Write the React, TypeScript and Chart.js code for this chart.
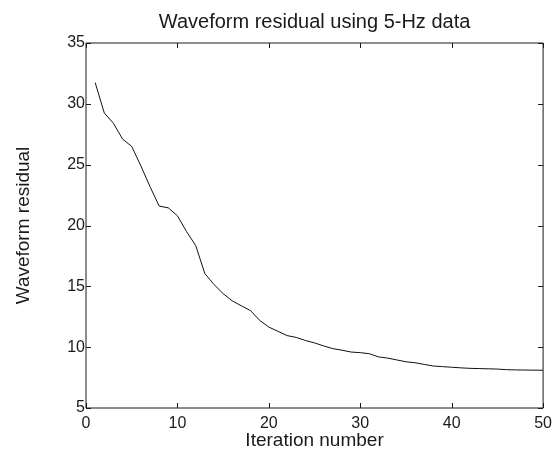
import React, { useEffect, useRef } from "react";
import { Chart, registerables } from "chart.js";

Chart.register(...registerables);

const iterations: number[] = Array.from({ length: 50 }, (_, i) => i + 1);
const residuals: number[] = [
  31.75, 29.25, 28.4, 27.1, 26.5, 24.9, 23.2, 21.6, 21.45, 20.8,
  19.5, 18.35, 16.05, 15.15, 14.4, 13.8, 13.4, 13.0, 12.2, 11.65,
  11.3, 10.95, 10.8, 10.55, 10.35, 10.1, 9.88, 9.75, 9.6, 9.55,
  9.46, 9.2, 9.1, 8.95, 8.8, 8.72, 8.58, 8.45, 8.4, 8.35,
  8.3, 8.26, 8.24, 8.22, 8.2, 8.15, 8.13, 8.12, 8.11, 8.1,
];
const xTicks: number[] = [0, 10, 20, 30, 40, 50];
const yTicks: number[] = [5, 10, 15, 20, 25, 30, 35];
const chartTitle = "Waveform residual using 5-Hz data";
const xTitle = "Iteration number";
const yTitle = "Waveform residual";

const FONT = "'Liberation Sans', Arial, Helvetica, sans-serif";

const framePlugin = {
  id: "frame",
  afterDraw(chart: any) {
    const { ctx, chartArea } = chart;
    const { left, right, top, bottom } = chartArea;
    const xs = chart.scales.x;
    const ys = chart.scales.y;
    ctx.save();
    ctx.strokeStyle = "#1a1a1a";
    ctx.lineWidth = 1;
    ctx.beginPath();
    ctx.rect(left, top, right - left, bottom - top);
    ctx.stroke();
    const tl = 5;
    ctx.beginPath();
    for (const v of xTicks) {
      const px = Math.round(xs.getPixelForValue(v)) + 0.5;
      ctx.moveTo(px, bottom);
      ctx.lineTo(px, bottom - tl);
      ctx.moveTo(px, top);
      ctx.lineTo(px, top + tl);
    }
    for (const v of yTicks) {
      const py = Math.round(ys.getPixelForValue(v)) + 0.5;
      ctx.moveTo(left, py);
      ctx.lineTo(left + tl, py);
      ctx.moveTo(right, py);
      ctx.lineTo(right - tl, py);
    }
    ctx.stroke();

    ctx.fillStyle = "#1a1a1a";
    ctx.textAlign = "center";
    ctx.textBaseline = "alphabetic";
    ctx.font = `20px ${FONT}`;
    ctx.fillText(chartTitle, (left + right) / 2, 28);
    ctx.font = `19px ${FONT}`;
    ctx.fillText(xTitle, (left + right) / 2, 446);
    ctx.translate(29, (top + bottom) / 2);
    ctx.rotate(-Math.PI / 2);
    ctx.fillText(yTitle, 0, 0);
    ctx.restore();
  },
};

export default function App() {
  const ref = useRef<HTMLCanvasElement | null>(null);
  useEffect(() => {
    document.body.style.margin = "0";
    const canvas = ref.current;
    if (!canvas) return;
    const chart = new Chart(canvas, {
      type: "line",
      data: {
        datasets: [
          {
            data: iterations.map((x, i) => ({ x, y: residuals[i] })),
            borderColor: "#111111",
            borderWidth: 1,
            pointRadius: 0,
            tension: 0,
            fill: false,
          },
        ],
      },
      options: {
        responsive: false,
        animation: false,
        devicePixelRatio: 1,
        layout: { padding: { left: 0, top: 43, right: 11, bottom: 0 } },
        plugins: {
          legend: { display: false },
          tooltip: { enabled: false },
          title: { display: false },
        },
        scales: {
          x: {
            type: "linear",
            min: 0,
            max: 50,
            afterFit: (s: any) => {
              s.height = 45;
            },
            afterBuildTicks: (s: any) => {
              s.ticks = xTicks.map((v) => ({ value: v }));
            },
            grid: { display: false, drawTicks: false },
            border: { display: false },
            ticks: {
              color: "#1a1a1a",
              padding: 6,
              maxRotation: 0,
              font: { family: FONT, size: 16 },
            },
          },
          y: {
            type: "linear",
            min: 5,
            max: 35,
            afterFit: (s: any) => {
              s.width = 86;
            },
            afterBuildTicks: (s: any) => {
              s.ticks = yTicks.map((v) => ({ value: v }));
            },
            grid: { display: false, drawTicks: false },
            border: { display: false },
            ticks: {
              color: "#1a1a1a",
              padding: 1,
              font: { family: FONT, size: 16 },
            },
          },
        },
      },
      plugins: [framePlugin],
    });
    return () => chart.destroy();
  }, []);
  return (
    <div style={{ width: 558, height: 453, background: "#fff" }}>
      <canvas ref={ref} width={558} height={453} style={{ display: "block" }} />
    </div>
  );
}
